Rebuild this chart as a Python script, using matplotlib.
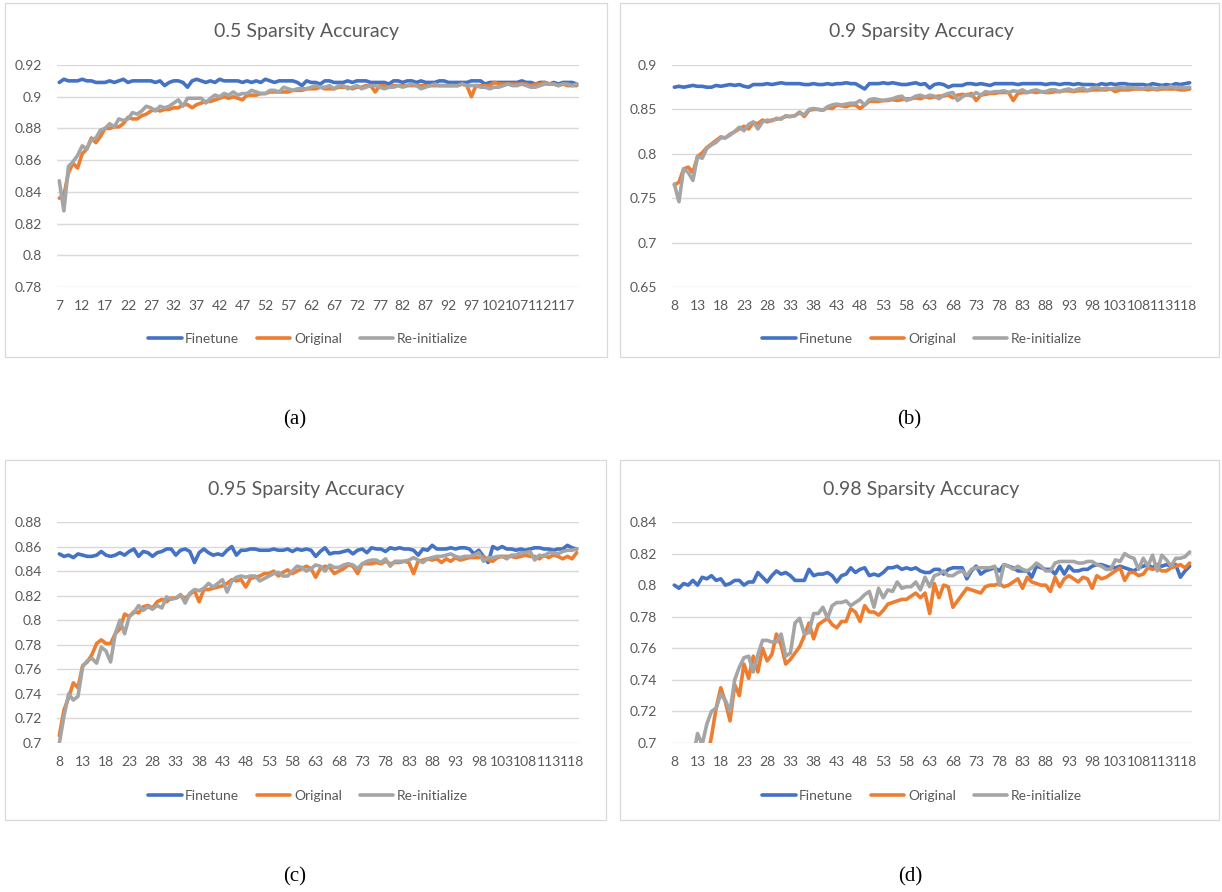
import numpy as np
import matplotlib
matplotlib.use("Agg")
import matplotlib.pyplot as plt
from matplotlib.patches import Rectangle

W, H = 1222, 892

# ---------------- data ----------------
series_names = ["Finetune", "Original", "Re-initialize"]
colors = ["#4472C4", "#ED7D31", "#A5A5A5"]

titles = ["0.5 Sparsity Accuracy", "0.9 Sparsity Accuracy",
          "0.95 Sparsity Accuracy", "0.98 Sparsity Accuracy"]
captions = ["(a)", "(b)", "(c)", "(d)"]

epochs_a = list(range(7, 121))
epochs_b = list(range(8, 120))
epochs_c = list(range(8, 120))
epochs_d = list(range(8, 120))

yticks_a = [0.78, 0.80, 0.82, 0.84, 0.86, 0.88, 0.90, 0.92]
yticks_b = [0.65, 0.70, 0.75, 0.80, 0.85, 0.90]
yticks_c = [0.70, 0.72, 0.74, 0.76, 0.78, 0.80, 0.82, 0.84, 0.86, 0.88]
yticks_d = [0.70, 0.72, 0.74, 0.76, 0.78, 0.80, 0.82, 0.84]

finetune_a = [
    0.909, 0.911, 0.910, 0.910, 0.910, 0.911, 0.910, 0.910, 0.909, 0.909,
    0.909, 0.910, 0.909, 0.910, 0.911, 0.909, 0.910, 0.910, 0.910, 0.910,
    0.910, 0.909, 0.910, 0.907, 0.909, 0.910, 0.910, 0.909, 0.906, 0.910,
    0.911, 0.910, 0.909, 0.910, 0.909, 0.911, 0.910, 0.910, 0.910, 0.910,
    0.909, 0.910, 0.909, 0.910, 0.909, 0.911, 0.910, 0.909, 0.910, 0.910,
    0.910, 0.910, 0.909, 0.907, 0.910, 0.909, 0.909, 0.908, 0.910, 0.910,
    0.909, 0.909, 0.909, 0.910, 0.909, 0.910, 0.910, 0.910, 0.909, 0.909,
    0.909, 0.909, 0.908, 0.910, 0.910, 0.909, 0.910, 0.910, 0.909, 0.910,
    0.909, 0.909, 0.909, 0.910, 0.910, 0.909, 0.909, 0.909, 0.909, 0.909,
    0.910, 0.910, 0.910, 0.908, 0.909, 0.909, 0.909, 0.909, 0.909, 0.909,
    0.909, 0.910, 0.909, 0.909, 0.908, 0.909, 0.909, 0.908, 0.909, 0.908,
    0.909, 0.909, 0.909, 0.908]
original_a = [
    0.836, 0.838, 0.852, 0.858, 0.855, 0.864, 0.867, 0.874, 0.871, 0.875,
    0.880, 0.880, 0.881, 0.881, 0.883, 0.887, 0.886, 0.886, 0.888, 0.889,
    0.891, 0.892, 0.891, 0.892, 0.892, 0.893, 0.893, 0.895, 0.895, 0.893,
    0.895, 0.896, 0.897, 0.897, 0.898, 0.899, 0.900, 0.899, 0.900, 0.899,
    0.898, 0.901, 0.901, 0.901, 0.902, 0.902, 0.903, 0.903, 0.903, 0.903,
    0.903, 0.904, 0.904, 0.904, 0.905, 0.905, 0.905, 0.906, 0.905, 0.905,
    0.905, 0.906, 0.906, 0.906, 0.905, 0.906, 0.906, 0.907, 0.907, 0.903,
    0.907, 0.907, 0.906, 0.907, 0.907, 0.907, 0.907, 0.907, 0.907, 0.907,
    0.907, 0.907, 0.907, 0.907, 0.907, 0.907, 0.907, 0.907, 0.908, 0.907,
    0.900, 0.907, 0.907, 0.907, 0.907, 0.909, 0.908, 0.908, 0.908, 0.908,
    0.908, 0.908, 0.908, 0.907, 0.908, 0.908, 0.909, 0.908, 0.908, 0.907,
    0.908, 0.907, 0.907, 0.907]
reinit_a = [
    0.847, 0.828, 0.856, 0.859, 0.863, 0.869, 0.867, 0.873, 0.874, 0.879,
    0.880, 0.883, 0.881, 0.886, 0.885, 0.886, 0.890, 0.889, 0.891, 0.894,
    0.893, 0.891, 0.894, 0.893, 0.894, 0.896, 0.898, 0.894, 0.899, 0.899,
    0.899, 0.899, 0.896, 0.899, 0.901, 0.900, 0.902, 0.901, 0.903, 0.901,
    0.902, 0.902, 0.904, 0.903, 0.902, 0.902, 0.904, 0.904, 0.903, 0.906,
    0.905, 0.904, 0.905, 0.905, 0.905, 0.906, 0.907, 0.906, 0.906, 0.907,
    0.905, 0.907, 0.907, 0.905, 0.906, 0.907, 0.905, 0.906, 0.907, 0.907,
    0.906, 0.905, 0.906, 0.906, 0.907, 0.906, 0.907, 0.908, 0.907, 0.905,
    0.906, 0.907, 0.908, 0.907, 0.907, 0.907, 0.907, 0.907, 0.908, 0.907,
    0.907, 0.907, 0.906, 0.906, 0.905, 0.906, 0.906, 0.907, 0.908, 0.907,
    0.907, 0.908, 0.907, 0.906, 0.906, 0.907, 0.908, 0.908, 0.908, 0.907,
    0.908, 0.908, 0.907, 0.908]

finetune_b = [
    0.875, 0.876, 0.875, 0.876, 0.877, 0.876, 0.876, 0.875, 0.875, 0.877,
    0.876, 0.877, 0.878, 0.877, 0.878, 0.876, 0.875, 0.878, 0.878, 0.878,
    0.879, 0.878, 0.879, 0.880, 0.879, 0.879, 0.879, 0.879, 0.878, 0.878,
    0.879, 0.878, 0.878, 0.879, 0.878, 0.879, 0.879, 0.880, 0.879, 0.879,
    0.876, 0.873, 0.879, 0.879, 0.879, 0.880, 0.879, 0.880, 0.879, 0.878,
    0.878, 0.879, 0.880, 0.878, 0.879, 0.874, 0.878, 0.879, 0.878, 0.875,
    0.877, 0.877, 0.877, 0.879, 0.879, 0.878, 0.879, 0.878, 0.877, 0.879,
    0.879, 0.879, 0.879, 0.879, 0.878, 0.879, 0.879, 0.879, 0.879, 0.879,
    0.878, 0.879, 0.879, 0.878, 0.879, 0.879, 0.878, 0.879, 0.878, 0.878,
    0.878, 0.877, 0.879, 0.878, 0.879, 0.878, 0.879, 0.879, 0.878, 0.878,
    0.878, 0.878, 0.877, 0.879, 0.878, 0.877, 0.878, 0.877, 0.879, 0.878,
    0.879, 0.880]
original_b = [
    0.765, 0.768, 0.783, 0.785, 0.779, 0.797, 0.801, 0.807, 0.811, 0.815,
    0.819, 0.818, 0.822, 0.825, 0.828, 0.831, 0.828, 0.835, 0.834, 0.838,
    0.836, 0.838, 0.839, 0.840, 0.842, 0.842, 0.843, 0.847, 0.842, 0.849,
    0.850, 0.850, 0.849, 0.852, 0.851, 0.855, 0.854, 0.853, 0.855, 0.855,
    0.851, 0.855, 0.859, 0.859, 0.859, 0.860, 0.860, 0.861, 0.860, 0.861,
    0.862, 0.862, 0.863, 0.862, 0.864, 0.863, 0.864, 0.865, 0.865, 0.866,
    0.863, 0.866, 0.867, 0.866, 0.868, 0.860, 0.866, 0.867, 0.868, 0.868,
    0.869, 0.869, 0.869, 0.860, 0.868, 0.869, 0.869, 0.870, 0.869, 0.870,
    0.869, 0.869, 0.870, 0.870, 0.871, 0.871, 0.870, 0.871, 0.871, 0.871,
    0.872, 0.872, 0.872, 0.872, 0.873, 0.870, 0.872, 0.872, 0.872, 0.873,
    0.873, 0.873, 0.872, 0.873, 0.872, 0.873, 0.873, 0.873, 0.873, 0.872,
    0.872, 0.873]
reinit_b = [
    0.766, 0.746, 0.783, 0.779, 0.770, 0.797, 0.795, 0.806, 0.810, 0.813,
    0.818, 0.818, 0.821, 0.825, 0.830, 0.826, 0.833, 0.836, 0.828, 0.836,
    0.838, 0.837, 0.840, 0.839, 0.843, 0.842, 0.843, 0.846, 0.844, 0.850,
    0.851, 0.850, 0.849, 0.853, 0.855, 0.856, 0.855, 0.856, 0.857, 0.857,
    0.860, 0.855, 0.861, 0.862, 0.861, 0.860, 0.861, 0.862, 0.864, 0.865,
    0.860, 0.862, 0.865, 0.866, 0.864, 0.866, 0.865, 0.862, 0.866, 0.868,
    0.869, 0.860, 0.864, 0.867, 0.865, 0.869, 0.866, 0.870, 0.869, 0.870,
    0.870, 0.871, 0.869, 0.871, 0.870, 0.872, 0.869, 0.871, 0.872, 0.870,
    0.870, 0.872, 0.872, 0.870, 0.872, 0.873, 0.871, 0.873, 0.874, 0.871,
    0.874, 0.875, 0.873, 0.874, 0.873, 0.874, 0.875, 0.874, 0.875, 0.874,
    0.874, 0.873, 0.875, 0.874, 0.873, 0.875, 0.874, 0.876, 0.874, 0.875,
    0.874, 0.875]

finetune_c = [
    0.854, 0.852, 0.853, 0.851, 0.854, 0.853, 0.852, 0.852, 0.853, 0.856,
    0.853, 0.852, 0.853, 0.855, 0.853, 0.856, 0.858, 0.852, 0.856, 0.855,
    0.852, 0.855, 0.856, 0.858, 0.858, 0.853, 0.857, 0.858, 0.856, 0.847,
    0.855, 0.858, 0.855, 0.853, 0.854, 0.853, 0.857, 0.860, 0.853, 0.857,
    0.857, 0.858, 0.858, 0.857, 0.857, 0.857, 0.858, 0.857, 0.857, 0.858,
    0.856, 0.858, 0.857, 0.858, 0.857, 0.852, 0.856, 0.859, 0.854, 0.855,
    0.855, 0.856, 0.857, 0.854, 0.857, 0.858, 0.855, 0.859, 0.858, 0.858,
    0.856, 0.859, 0.858, 0.859, 0.858, 0.858, 0.857, 0.853, 0.858, 0.857,
    0.861, 0.858, 0.858, 0.858, 0.859, 0.858, 0.859, 0.859, 0.858, 0.854,
    0.857, 0.852, 0.847, 0.860, 0.858, 0.860, 0.858, 0.858, 0.857, 0.858,
    0.857, 0.858, 0.859, 0.859, 0.858, 0.858, 0.857, 0.858, 0.858, 0.861,
    0.859, 0.858]
original_c = [
    0.706, 0.727, 0.737, 0.749, 0.745, 0.763, 0.766, 0.772, 0.781, 0.784,
    0.781, 0.781, 0.789, 0.793, 0.805, 0.803, 0.807, 0.806, 0.811, 0.812,
    0.810, 0.815, 0.817, 0.815, 0.818, 0.818, 0.820, 0.818, 0.821, 0.824,
    0.815, 0.825, 0.825, 0.826, 0.827, 0.828, 0.830, 0.833, 0.832, 0.833,
    0.827, 0.834, 0.835, 0.836, 0.838, 0.838, 0.840, 0.836, 0.839, 0.841,
    0.838, 0.840, 0.842, 0.844, 0.842, 0.835, 0.842, 0.844, 0.843, 0.838,
    0.840, 0.842, 0.845, 0.844, 0.838, 0.846, 0.846, 0.846, 0.847, 0.846,
    0.848, 0.846, 0.847, 0.847, 0.848, 0.847, 0.838, 0.848, 0.849, 0.850,
    0.849, 0.850, 0.847, 0.850, 0.848, 0.851, 0.849, 0.850, 0.851, 0.851,
    0.851, 0.852, 0.849, 0.848, 0.851, 0.852, 0.852, 0.852, 0.851, 0.852,
    0.853, 0.852, 0.852, 0.850, 0.853, 0.851, 0.853, 0.852, 0.850, 0.852,
    0.850, 0.855]
reinit_c = [
    0.700, 0.722, 0.740, 0.735, 0.738, 0.762, 0.767, 0.769, 0.765, 0.778,
    0.775, 0.766, 0.789, 0.800, 0.789, 0.803, 0.806, 0.812, 0.808, 0.811,
    0.809, 0.812, 0.810, 0.819, 0.817, 0.818, 0.821, 0.814, 0.822, 0.825,
    0.824, 0.826, 0.830, 0.827, 0.830, 0.833, 0.823, 0.832, 0.835, 0.836,
    0.835, 0.836, 0.836, 0.832, 0.834, 0.836, 0.838, 0.839, 0.836, 0.836,
    0.840, 0.844, 0.843, 0.840, 0.842, 0.845, 0.844, 0.840, 0.845, 0.843,
    0.843, 0.845, 0.846, 0.845, 0.842, 0.846, 0.848, 0.849, 0.849, 0.847,
    0.850, 0.844, 0.848, 0.848, 0.848, 0.849, 0.851, 0.849, 0.847, 0.850,
    0.851, 0.852, 0.852, 0.853, 0.854, 0.852, 0.851, 0.852, 0.852, 0.853,
    0.855, 0.848, 0.851, 0.851, 0.852, 0.852, 0.850, 0.853, 0.853, 0.855,
    0.855, 0.856, 0.849, 0.853, 0.852, 0.855, 0.855, 0.854, 0.856, 0.857,
    0.857, 0.858]

finetune_d = [
    0.800, 0.798, 0.801, 0.800, 0.803, 0.800, 0.805, 0.804, 0.806, 0.803,
    0.804, 0.800, 0.801, 0.803, 0.803, 0.800, 0.802, 0.802, 0.808, 0.805,
    0.802, 0.806, 0.809, 0.807, 0.808, 0.806, 0.803, 0.803, 0.803, 0.810,
    0.806, 0.807, 0.807, 0.808, 0.806, 0.802, 0.806, 0.807, 0.811, 0.808,
    0.810, 0.811, 0.806, 0.807, 0.806, 0.808, 0.811, 0.811, 0.812, 0.810,
    0.811, 0.810, 0.811, 0.809, 0.808, 0.808, 0.810,
    0.810, 0.807, 0.810, 0.811, 0.811, 0.811, 0.804, 0.809, 0.812, 0.807,
    0.809, 0.810, 0.811, 0.809, 0.813, 0.812, 0.811, 0.809, 0.809, 0.809,
    0.805, 0.812, 0.811, 0.810, 0.810, 0.807, 0.812, 0.807, 0.812, 0.809,
    0.809, 0.810, 0.810, 0.812, 0.813, 0.813, 0.812, 0.811, 0.811, 0.812,
    0.811, 0.810, 0.809, 0.811, 0.812, 0.813, 0.811, 0.813, 0.812, 0.813,
    0.812, 0.813, 0.805, 0.809, 0.812]
original_d = [
    0.640, 0.655, 0.660, 0.668, 0.672, 0.676, 0.684, 0.690, 0.704, 0.722,
    0.735, 0.726, 0.714, 0.737, 0.730, 0.750, 0.741, 0.755, 0.745, 0.760,
    0.752, 0.756, 0.769, 0.762, 0.750, 0.753, 0.757, 0.761, 0.768, 0.776,
    0.766, 0.775, 0.777, 0.779, 0.775, 0.773, 0.777, 0.777, 0.785, 0.783,
    0.777, 0.787, 0.783, 0.783, 0.781, 0.784, 0.788, 0.789, 0.790, 0.791,
    0.791, 0.793, 0.795, 0.792, 0.795, 0.782, 0.801, 0.792, 0.800, 0.799,
    0.786, 0.790, 0.794, 0.798, 0.797, 0.796, 0.795, 0.799, 0.800, 0.800,
    0.801, 0.799, 0.800, 0.802, 0.804, 0.798, 0.805, 0.802, 0.801, 0.800,
    0.800, 0.796, 0.805, 0.799, 0.804, 0.806, 0.804, 0.802, 0.805, 0.804,
    0.798, 0.806, 0.804, 0.805, 0.807, 0.809, 0.811, 0.803, 0.808, 0.808,
    0.806, 0.807, 0.811, 0.810, 0.811, 0.809, 0.809, 0.811, 0.812, 0.813,
    0.811, 0.814]
reinit_d = [
    0.650, 0.660, 0.670, 0.680, 0.690, 0.706, 0.699, 0.712, 0.720, 0.722,
    0.731, 0.727, 0.720, 0.740, 0.748, 0.754, 0.755, 0.745, 0.756, 0.765,
    0.765, 0.764, 0.764, 0.769, 0.755, 0.757, 0.776, 0.779, 0.769, 0.770,
    0.782, 0.782, 0.786, 0.779, 0.787, 0.789, 0.789, 0.790, 0.787, 0.789,
    0.791, 0.794, 0.796, 0.786, 0.798, 0.792, 0.797, 0.796, 0.802, 0.798,
    0.799, 0.799, 0.802, 0.797, 0.805, 0.799,
    0.806, 0.807, 0.809, 0.806, 0.806, 0.808, 0.809, 0.806, 0.810, 0.811,
    0.811, 0.811, 0.811, 0.812, 0.800, 0.813, 0.812, 0.810, 0.812, 0.810,
    0.809, 0.811, 0.814, 0.812, 0.809, 0.809, 0.814, 0.815, 0.815, 0.815,
    0.815, 0.814, 0.814, 0.815, 0.815, 0.813, 0.812, 0.810, 0.810, 0.816,
    0.815, 0.820, 0.818, 0.817, 0.810, 0.817, 0.812, 0.819, 0.809, 0.819,
    0.816, 0.812, 0.817, 0.817, 0.818, 0.821]

# ---------------- layout (pixel boxes) ----------------
panels = [
    dict(box=(5, 3, 607, 357), ax=(57, 65, 579, 287), title=(306, 32),
         legend=(308, 339), caption=(295, 420),
         epochs=epochs_a, data=(finetune_a, original_a, reinit_a),
         ylim=(0.78, 0.92), yticks=yticks_a),
    dict(box=(620, 3, 1219, 357), ax=(672, 65, 1192, 287), title=(921, 32),
         legend=(922, 339), caption=(909, 420),
         epochs=epochs_b, data=(finetune_b, original_b, reinit_b),
         ylim=(0.65, 0.90), yticks=yticks_b),
    dict(box=(5, 460, 606, 820), ax=(57, 522, 579, 743), title=(306, 489),
         legend=(308, 796), caption=(295, 877),
         epochs=epochs_c, data=(finetune_c, original_c, reinit_c),
         ylim=(0.70, 0.88), yticks=yticks_c),
    dict(box=(620, 460, 1219, 820), ax=(672, 522, 1192, 743), title=(921, 489),
         legend=(922, 796), caption=(910, 877),
         epochs=epochs_d, data=(finetune_d, original_d, reinit_d),
         ylim=(0.70, 0.84), yticks=yticks_d),
]

TXT = "#595959"
GRID = "#D9D9D9"
plt.rcParams['font.family'] = ['Lato', 'DejaVu Sans']

fig = plt.figure(figsize=(W / 100, H / 100), dpi=100)
fig.patch.set_facecolor("white")

def fx(x):
    return x / W

def fy(y):
    return 1 - y / H

for i, p in enumerate(panels):
    bx0, by0, bx1, by1 = p['box']
    fig.add_artist(Rectangle((fx(bx0), fy(by1)), (bx1 - bx0) / W, (by1 - by0) / H,
                             transform=fig.transFigure, fill=False,
                             edgecolor=GRID, lw=0.9))
    x0, y0, x1, y1 = p['ax']
    ax = fig.add_axes([fx(x0), fy(y1), (x1 - x0) / W, (y1 - y0) / H])
    n = len(p['epochs'])
    xs = np.arange(n)
    handles = []
    for vals, name, col in zip(p['data'], series_names, colors):
        h, = ax.plot(xs, vals, color=col, lw=2.6, label=name,
                     solid_joinstyle='round', solid_capstyle='round')
        handles.append(h)
    ax.set_xlim(-0.5, n - 0.5)
    ax.set_ylim(*p['ylim'])
    ax.set_yticks(p['yticks'])
    ax.set_yticklabels([f"{round(t, 2):g}" for t in p['yticks']])
    ticks = list(range(0, n, 5))
    ax.set_xticks(ticks)
    ax.set_xticklabels([str(p['epochs'][t]) for t in ticks])
    ax.grid(axis='y', color=GRID, lw=1.0)
    ax.set_axisbelow(True)
    for s in ax.spines.values():
        s.set_visible(False)
    ax.tick_params(axis='both', length=0, labelsize=10, labelcolor=TXT)
    ax.tick_params(axis='y', pad=11)
    ax.tick_params(axis='x', pad=9)
    ax.set_facecolor('none')

    tx, ty = p['title']
    fig.text(fx(tx), fy(ty), titles[i], ha='center', va='center',
             fontsize=14, color=TXT)
    lx, ly = p['legend']
    fig.legend(handles=handles, loc='center', bbox_to_anchor=(fx(lx), fy(ly)),
               ncol=3, frameon=False, fontsize=10, labelcolor=TXT,
               handlelength=2.4, handletextpad=0.25, columnspacing=1.3,
               borderaxespad=0)
    cx, cy = p['caption']
    fig.text(fx(cx), fy(cy), captions[i], ha='center', va='center',
             fontsize=15, color='black', family=['Liberation Serif', 'DejaVu Serif'])

fig.savefig("out.png", dpi=100, facecolor='white')
